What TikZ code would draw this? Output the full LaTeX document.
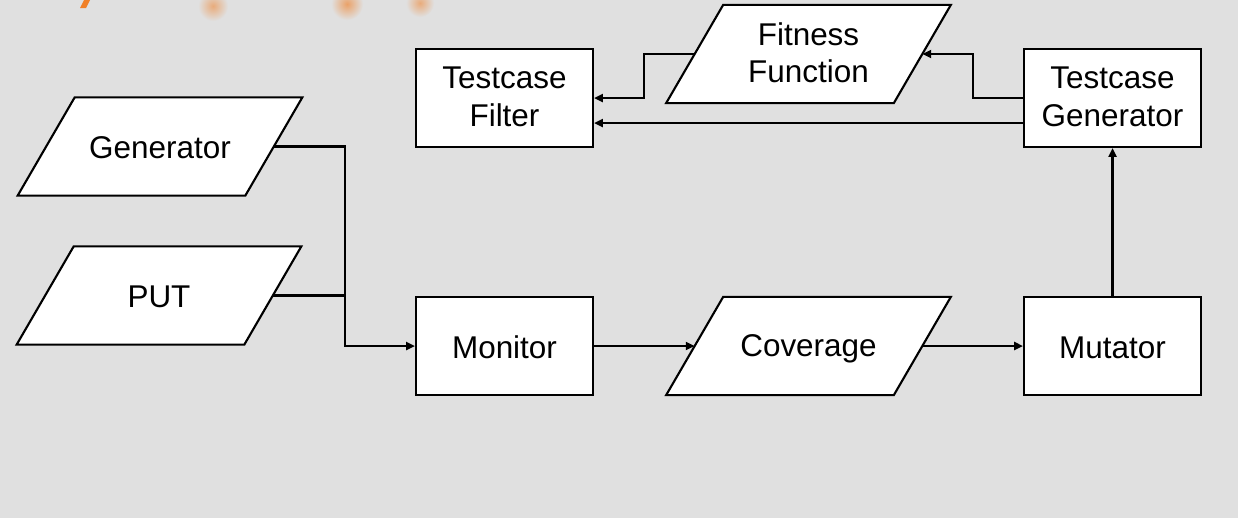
\documentclass[tikz,border=0pt]{standalone}
\usepackage{fontspec}
\setmainfont{Liberation Sans}
\usetikzlibrary{arrows.meta,backgrounds}
\definecolor{bg}{RGB}{224,224,224}
\definecolor{org}{RGB}{240,128,40}
\tikzset{
  txt/.style={inner sep=0pt,align=center,font=\fontsize{17.9}{21.5}\selectfont,
    execute at begin node=\rule{0pt}{15.5pt},execute at end node=\rule[-1.5pt]{0pt}{1.5pt}},
  two/.style={execute at begin node=\rule{0pt}{22pt}},
  box/.style={txt,draw=black,fill=white,line width=1.2pt,minimum width=3.54cm,minimum height=1.96cm},
  para/.style={txt,minimum width=4.54cm,minimum height=1.95cm},
  pshape/.style={draw=black,fill=white,line width=1.2pt,line join=miter},
  conn/.style={line width=1.2pt},
  arr/.style={line width=1.2pt,-{Triangle[length=5pt,width=4.5pt]}}
}
\newcommand{\parashape}[1]{%
  \begin{pgfonlayer}{background}
  \draw[pshape] ([xshift=-0.57cm]#1.south west) -- ([xshift=-0.57cm]#1.south east)
    -- ([xshift=0.57cm]#1.north east) -- ([xshift=0.57cm]#1.north west) -- cycle;
  \end{pgfonlayer}}
\begin{document}
\begin{tikzpicture}[x=0.02cm,y=-0.02cm]
\useasboundingbox (0,0) rectangle (1238,518);
\begin{pgfonlayer}{background}
\fill[bg] (0,0) rectangle (1238,518);
% orange fragments at the top edge
\begin{scope}
\clip (0,0) rectangle (1238,518);
\fill[org] (80,8) -- (86,8) -- (90,0) -- (84,0) -- cycle;
\shade[inner color=org!55!bg,outer color=bg] (213,6) circle (15);
\shade[inner color=org!65!bg,outer color=bg] (347,4) circle (16);
\shade[inner color=org!55!bg,outer color=bg] (420,3) circle (14);
\end{scope}
\end{pgfonlayer}
% nodes
\node[para] (gen) at (160,146.5) {Generator};
\node[para] (put) at (159,295.5) {PUT};
\node[box] (mon) at (504.5,346) {Monitor};
\node[para] (cov) at (808.5,346) {Coverage};
\node[box] (mut) at (1112.5,346) {Mutator};
\node[box,two] (tg) at (1112.5,98) {Testcase\\Generator};
\node[box,two] (tf) at (504.5,98) {Testcase\\Filter};
\node[para,two] (ff) at (808.5,54) {Fitness\\Function};
\parashape{gen}
\parashape{put}
\parashape{cov}
\parashape{ff}
% helper coordinates
\coordinate (jx) at (345,0);
\coordinate (ax) at (973,0);
\coordinate (bx) at (644,0);
\coordinate (ly) at (0,123);
% connectors
\draw[arr] (gen.east) -| (jx |- mon.west) -- (mon.west);
\draw[conn] (put.east) -- (jx |- put.east);
\draw[arr] (mon.east) -- (cov.west);
\draw[arr] (cov.east) -- (mut.west);
\draw[arr] (mut.north) -- (tg.south);
\draw[arr] (tg.west |- ly) -- (tf.east |- ly);
\draw[arr] (tg.west) -| (ax |- ff.east) -- (ff.east);
\draw[arr] (ff.west) -| (bx |- tf.east) -- (tf.east);
\end{tikzpicture}
\end{document}
